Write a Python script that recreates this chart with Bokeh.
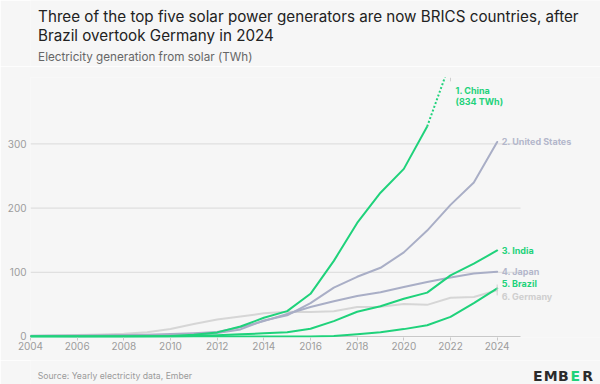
from bokeh.plotting import figure
from bokeh.layouts import column
from bokeh.models import Range1d, Label, FixedTicker
from bokeh.embed import file_html
from bokeh.resources import INLINE

# ---------------- data (TWh) ----------------
years = list(range(2004, 2025))
china = [0.0, 0.0, 0.0, 0.0, 0.1, 0.2, 0.7, 2.6, 6.4, 15.5, 29.2, 39.5, 66.5,
         117.8, 176.9, 224.0, 261.1, 327.0, 427.7, 584.2, 834.0]
united_states = [0.6, 0.6, 0.5, 0.6, 0.9, 1.0, 1.5, 2.5, 5.5, 11.0, 25.0, 33.0,
                 52.0, 76.0, 93.0, 107.0, 131.0, 165.0, 205.0, 240.0, 303.0]
india = [0.0, 0.0, 0.0, 0.0, 0.0, 0.0, 0.1, 0.8, 2.0, 3.4, 4.9, 6.6, 12.1,
         24.0, 38.5, 47.0, 58.7, 68.3, 95.2, 113.4, 134.0]
japan = [1.2, 1.4, 1.7, 1.9, 2.3, 2.9, 3.8, 5.2, 7.0, 14.3, 24.0, 35.0, 46.0,
         55.0, 63.0, 69.0, 77.0, 85.0, 92.0, 98.0, 101.0]
brazil = [0.0, 0.0, 0.0, 0.0, 0.0, 0.0, 0.0, 0.0, 0.0, 0.0, 0.0, 0.0, 0.1,
          0.8, 3.5, 6.7, 11.5, 17.5, 30.5, 52.0, 75.0]
germany = [0.6, 1.3, 2.2, 3.1, 4.4, 6.6, 11.7, 19.6, 26.4, 31.0, 36.1, 38.7,
           38.1, 39.4, 45.8, 46.4, 50.6, 49.3, 60.3, 61.6, 72.0]
projected_from = 2021          # China drawn dotted after this year

x_ticks = list(range(2004, 2025, 2))
y_ticks = [0, 100, 200, 300]
grid_y = [100, 200, 300]

title_1 = "Three of the top five solar power generators are now BRICS countries, after"
title_2 = "Brazil overtook Germany in 2024"
subtitle = "Electricity generation from solar (TWh)"
source_text = "Source: Yearly electricity data, Ember"
logo_letters = ["E", "M", "B", "E", "R"]

# ---------------- styles ----------------
GREEN = "#1fd27b"
LAV = "#a9aec6"
LAV_TXT = "#b3b7cb"
LGRAY = "#d6d6d6"
LGRAY_TXT = "#cfcfcf"
BG = "#f6f6f6"
FONT = "Inter"
W = 600


def blank_fig(h):
    f = figure(width=W, height=h, output_backend="svg", toolbar_location=None,
               x_range=Range1d(0, W), y_range=Range1d(h, 0),
               x_axis_type=None, y_axis_type=None,
               min_border=0, min_border_left=0, min_border_right=0,
               min_border_top=0, min_border_bottom=0)
    f.background_fill_color = BG
    f.border_fill_color = BG
    f.outline_line_color = None
    f.grid.visible = False
    return f


def text_label(f, text, x, y, size, color, style="normal", font=FONT, align="left"):
    f.add_layout(Label(x=x, y=y, text=text, text_align=align, text_baseline="alphabetic",
                       text_font=font, text_font_size=size, text_font_style=style,
                       text_color=color))


# ---------------- header ----------------
HEADER_H = 66
header = blank_fig(HEADER_H)
text_label(header, title_1, 8, 15.5, "15.2px", "#222222")
text_label(header, title_2, 8, 34.8, "15.2px", "#222222")
text_label(header, subtitle, 8, 56.7, "11.7px", "#666666")

# ---------------- main chart ----------------
MAIN_H = 294
X0, X_AXIS_END = 2004, 2025
PX_PER_YEAR = 490 / 21
X_END = X0 + (W - 30) / PX_PER_YEAR
Y0, Y_END = -1.56, 403.4

p_main = figure(width=W, height=MAIN_H, output_backend="svg", toolbar_location=None,
                x_range=Range1d(X0, X_END), y_range=Range1d(Y0, Y_END),
                min_border_left=30, min_border_right=0, min_border_top=11,
                min_border_bottom=23)
p_main.background_fill_color = BG
p_main.border_fill_color = BG
p_main.outline_line_color = None
p_main.xgrid.visible = False
p_main.ygrid.visible = False

p_main.xaxis.ticker = FixedTicker(ticks=x_ticks)
p_main.xaxis.axis_line_color = None
p_main.xaxis.major_tick_line_color = "#c8c8c8"
p_main.xaxis.major_tick_out = 3
p_main.xaxis.major_tick_in = 0
p_main.xaxis.minor_tick_line_color = None
p_main.xaxis.major_label_standoff = 1
p_main.xaxis.major_label_text_font = FONT
p_main.xaxis.major_label_text_font_size = "10px"
p_main.xaxis.major_label_text_color = "#9c9c9c"

p_main.yaxis.ticker = FixedTicker(ticks=y_ticks)
p_main.yaxis.axis_line_color = None
p_main.yaxis.major_tick_line_color = None
p_main.yaxis.minor_tick_line_color = None
p_main.yaxis.major_tick_out = 0
p_main.yaxis.major_tick_in = 0
p_main.yaxis.major_label_standoff = 4
p_main.yaxis.major_label_text_font = FONT
p_main.yaxis.major_label_text_font_size = "10px"
p_main.yaxis.major_label_text_color = "#9c9c9c"

# gridlines and baseline, ending at 2025
p_main.segment(x0=[X0] * len(grid_y), y0=grid_y, x1=[X_AXIS_END] * len(grid_y), y1=grid_y,
               line_color="#dadada", line_width=1)
p_main.segment(x0=[X0], y0=[0], x1=[X_AXIS_END], y1=[0], line_color="#c8c8c8", line_width=1)


def draw(vals, color):
    p_main.line(years, vals, line_color=color, line_width=2, line_join="round",
                line_cap="round")


draw(germany, LGRAY)
draw(japan, LAV)
draw(united_states, LAV)
draw(brazil, GREEN)
draw(india, GREEN)
k = years.index(projected_from)
p_main.line(years[:k + 1], china[:k + 1], line_color=GREEN, line_width=2, line_join="round")
p_main.line(years[k:], china[k:], line_color=GREEN, line_width=2, line_dash="2 2")

# small connector bracket for the Brazil / Germany labels and the China clip mark
p_main.segment(x0=[years[-1]], y0=[germany[-1] - 8], x1=[years[-1]], y1=[brazil[-1] + 6],
               line_color="#cfcfcf", line_width=1)
p_main.segment(x0=[2022], y0=[Y_END - 6], x1=[2022], y1=[Y_END], line_color="#cfcfcf",
               line_width=1)


def end_label(text, yv, color, dy=0):
    p_main.add_layout(Label(x=years[-1], y=yv, x_offset=4.5, y_offset=dy, text=text,
                            text_baseline="middle", text_font=FONT, text_font_size="9px",
                            text_font_style="bold", text_color=color))


end_label("2. United States", united_states[-1], LAV_TXT)
end_label("3. India", india[-1], GREEN)
end_label("4. Japan", japan[-1], LAV_TXT)
end_label("5. Brazil", brazil[-1], GREEN, 4.6)
end_label("6. Germany", germany[-1], LGRAY_TXT, -6)

p_main.add_layout(Label(x=2022, y=Y_END, x_offset=5, y_offset=-13, text="1. China",
                        text_baseline="alphabetic", text_font=FONT, text_font_size="9px",
                        text_font_style="bold", text_color=GREEN))
p_main.add_layout(Label(x=2022, y=Y_END, x_offset=5, y_offset=-23.5,
                        text="(%d TWh)" % round(china[-1]),
                        text_baseline="alphabetic", text_font=FONT, text_font_size="9px",
                        text_font_style="bold", text_color=GREEN))

# ---------------- footer ----------------
FOOTER_H = 24
footer = blank_fig(FOOTER_H)
text_label(footer, source_text, 7.5, 15.5, "8.7px", "#9a9a9a")
for ch, cx, col in zip(logo_letters, [534, 547.5, 561, 573.5, 586.5],
                       ["#2b2b2b", "#2b2b2b", "#2b2b2b", GREEN, "#2b2b2b"]):
    text_label(footer, ch, cx, 15.5, "14px", col, style="bold", font="DejaVu Sans",
               align="center")

p = column(header, p_main, footer, spacing=0)

open("out.html", "w").write(file_html(p, INLINE))
